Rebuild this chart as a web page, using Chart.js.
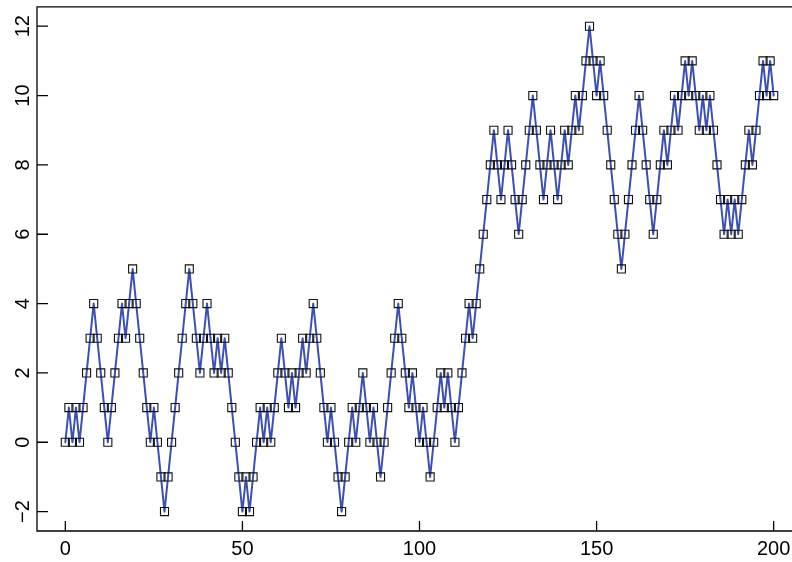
<!DOCTYPE html>
<html>
<head>
<meta charset="utf-8">
<script src="https://cdn.jsdelivr.net/npm/chart.js@4/dist/chart.umd.min.js"></script>
<style>
    html, body { margin: 0; padding: 0; background: #fff; overflow: hidden; }
    #wrap { width: 792px; height: 562px; overflow: hidden; }
</style>
</head>
<body>
<div id="wrap"><canvas id="chart" width="820" height="562"></canvas></div>
<script>
// random walk values (steps 0..200)
const walk = [
    0, 1, 0, 1, 0, 1, 2, 3, 4, 3,
    2, 1, 0, 1, 2, 3, 4, 3, 4, 5,
    4, 3, 2, 1, 0, 1, 0, -1, -2, -1,
    0, 1, 2, 3, 4, 5, 4, 3, 2, 3,
    4, 3, 2, 3, 2, 3, 2, 1, 0, -1,
    -2, -1, -2, -1, 0, 1, 0, 1, 0, 1,
    2, 3, 2, 1, 2, 1, 2, 3, 2, 3,
    4, 3, 2, 1, 0, 1, 0, -1, -2, -1,
    0, 1, 0, 1, 2, 1, 0, 1, 0, -1,
    0, 1, 2, 3, 4, 3, 2, 1, 2, 1,
    0, 1, 0, -1, 0, 1, 2, 1, 2, 1,
    0, 1, 2, 3, 4, 3, 4, 5, 6, 7,
    8, 9, 8, 7, 8, 9, 8, 7, 6, 7,
    8, 9, 10, 9, 8, 7, 8, 9, 8, 7,
    8, 9, 8, 9, 10, 9, 10, 11, 12, 11,
    10, 11, 10, 9, 8, 7, 6, 5, 6, 7,
    8, 9, 10, 9, 8, 7, 6, 7, 8, 9,
    8, 9, 10, 9, 10, 11, 10, 11, 10, 9,
    10, 9, 10, 9, 8, 7, 6, 7, 6, 7,
    6, 7, 8, 9, 8, 9, 10, 11, 10, 11,
    10
];
const steps = walk.map((v, i) => i);
const xTicks = [0, 50, 100, 150, 200];
const yTicks = [-2, 0, 2, 4, 6, 8, 10, 12];

function tickText(v) {
    return v < 0 ? '\u2212' + Math.abs(v) : String(v);
}

// R style frame: left, top and bottom lines, ticks pointing inward
const boxAxes = {
    id: 'boxAxes',
    afterDraw(chart) {
        let ctx = chart.ctx;
        let a = chart.chartArea;
        let xs = chart.scales.x;
        let ys = chart.scales.y;
        ctx.save();
        ctx.strokeStyle = '#000';
        ctx.lineWidth = 1.3;
        ctx.beginPath();
        ctx.moveTo(a.right, a.top);
        ctx.lineTo(a.left, a.top);
        ctx.lineTo(a.left, a.bottom);
        ctx.lineTo(a.right, a.bottom);
        xTicks.forEach(function (v) {
            let px = xs.getPixelForValue(v);
            ctx.moveTo(px, a.bottom);
            ctx.lineTo(px, a.bottom - 10);
        });
        yTicks.forEach(function (v) {
            let py = ys.getPixelForValue(v);
            ctx.moveTo(a.left, py);
            ctx.lineTo(a.left + 11, py);
        });
        ctx.stroke();

        ctx.fillStyle = '#000';
        ctx.font = '20px "Liberation Sans", Arial, sans-serif';
        ctx.textAlign = 'center';
        ctx.textBaseline = 'middle';
        xTicks.forEach(function (v) {
            ctx.fillText(tickText(v), xs.getPixelForValue(v), a.bottom + 18);
        });
        yTicks.forEach(function (v) {
            ctx.save();
            ctx.translate(a.left - 14, ys.getPixelForValue(v));
            ctx.rotate(-Math.PI / 2);
            ctx.fillText(tickText(v), 0, 0);
            ctx.restore();
        });
        ctx.restore();
    }
};

new Chart(document.getElementById('chart'), {
    type: 'line',
    data: {
        datasets: [{
            data: steps.map((s, i) => ({ x: s, y: walk[i] })),
            borderColor: '#3c4fb4',
            borderWidth: 2,
            borderJoinStyle: 'round',
            borderCapStyle: 'round',
            tension: 0,
            pointStyle: 'rect',
            pointRadius: 5.7,
            pointBorderWidth: 1.1,
            pointBorderColor: '#111',
            pointBackgroundColor: 'rgba(0,0,0,0)'
        }]
    },
    options: {
        responsive: false,
        animation: false,
        devicePixelRatio: 1,
        layout: { padding: { left: 37, top: 5, right: 18, bottom: 31 } },
        plugins: { legend: { display: false }, tooltip: { enabled: false } },
        scales: {
            x: { type: 'linear', min: -8, max: 208, display: false },
            y: { type: 'linear', min: -2.56, max: 12.56, display: false }
        }
    },
    plugins: [boxAxes]
});
</script>
</body>
</html>
